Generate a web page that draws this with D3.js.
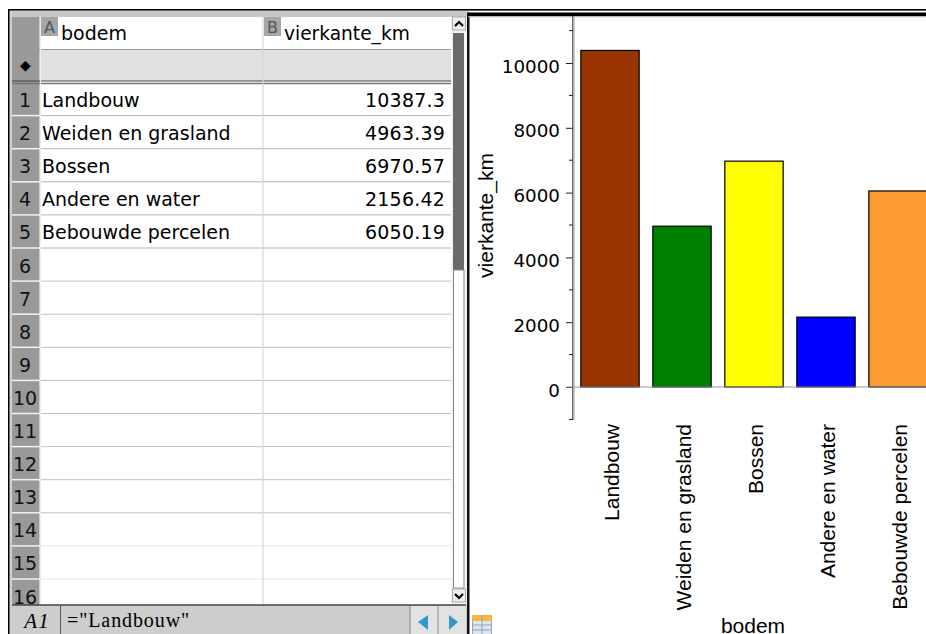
<!DOCTYPE html>
<html>
<head>
<meta charset="utf-8">
<script src="https://cdn.jsdelivr.net/npm/d3@7/dist/d3.min.js"></script>
<style>
html,body{margin:0;padding:0;background:#fff}
svg{display:block}
text{font-family:"DejaVu Sans",sans-serif;fill:#000}
.arial{font-family:"Liberation Sans",sans-serif}
.serif{font-family:"Liberation Serif",serif}
</style>
</head>
<body>
<svg id="doc" width="926" height="634"></svg>
<script>
// Land use table and its bar chart
const categories = ["Landbouw", "Weiden en grasland", "Bossen", "Andere en water", "Bebouwde percelen"];
const areaKm2 = [10387.3, 4963.39, 6970.57, 2156.42, 6050.19];
const areaLabels = ["10387.3", "4963.39", "6970.57", "2156.42", "6050.19"];
const barColors = ["#993300", "#008000", "#ffff00", "#0000ff", "#ff9933"];
const yTicks = [0, 2000, 4000, 6000, 8000, 10000];
const yMinorTicks = [-1000, 1000, 3000, 5000, 7000, 9000, 11000];
const rowNumbers = d3.range(1, 17);
const columnHeaders = [["A", "bodem"], ["B", "vierkante_km"]];

const svg = d3.select("#doc");
const rect = (g, x, y, w, h, fill) => g.append("rect").attr("x", x).attr("y", y).attr("width", w).attr("height", h).attr("fill", fill);
const hline = (g, x1, x2, y, stroke, sw) => g.append("line").attr("x1", x1).attr("x2", x2).attr("y1", y).attr("y2", y).attr("stroke", stroke).attr("stroke-width", sw);
const vline = (g, x, y1, y2, stroke, sw) => g.append("line").attr("x1", x).attr("x2", x).attr("y1", y1).attr("y2", y2).attr("stroke", stroke).attr("stroke-width", sw);

/* ---------- spreadsheet pane ---------- */
const sheet = svg.append("g");
const rowY = d3.scaleLinear().domain([1, 2]).range([83, 116.1]);

rect(sheet, 8, 9, 918, 1.6, "#000");
rect(sheet, 8, 9, 1.6, 625, "#000");
rect(sheet, 10, 11, 458, 6, "#c8c8c8");
rect(sheet, 10, 11, 2, 623, "#d0d0d0");
rect(sheet, 12, 17, 27.5, 588, "#999999");
rect(sheet, 40, 50, 412, 31, "#e0e0e0");

// Row separators and the numbered gutter
rowNumbers.forEach(n => {
  const y = rowY(n + 1);
  if (n < 16) {
    hline(sheet, 40, 451, y - 0.5, n < 6 ? "#b4b4b4" : (n < 14 ? "#c0c0c0" : "#e6e6e6"), 1);
    hline(sheet, 12, 40, y - 0.5, "#f2f2f2", 1.5);
  }
  sheet.append("text").attr("x", 25).attr("y", rowY(n) + 24)
    .attr("text-anchor", "middle").attr("font-size", 19).style("fill", "#111").text(n);
});

hline(sheet, 12, 451, 49.5, "#9a9a9a", 1);
hline(sheet, 12, 451, 81, "#444", 1.2);
hline(sheet, 12, 451, 83.5, "#777", 1.6);
vline(sheet, 263, 17, 605, "#d6d6d6", 1.2);
vline(sheet, 40.5, 17, 605, "#eeeeee", 1);

sheet.append("text").attr("x", 25.5).attr("y", 70).attr("text-anchor", "middle").attr("font-size", 14).text("◆");

// Column headers with their small letter chips
columnHeaders.forEach(([letter, name], i) => {
  const x = i === 0 ? 41 : 264;
  rect(sheet, x, 17, 17, 19, "#a6a6a6");
  sheet.append("text").attr("x", x + 8.5).attr("y", 33).attr("text-anchor", "middle")
    .attr("font-size", 16).style("fill", "#555").text(letter);
  sheet.append("text").attr("x", x + 20).attr("y", 40).attr("font-size", i === 0 ? 19 : 18.6).text(name);
});

// Table cells
categories.forEach((c, i) => {
  sheet.append("text").attr("x", 42).attr("y", rowY(i + 1) + 24).attr("font-size", 19).text(c);
  sheet.append("text").attr("x", 445).attr("y", rowY(i + 1) + 24).attr("text-anchor", "end")
    .attr("font-size", 19).attr("letter-spacing", 0.2).text(areaLabels[i]);
});

// Vertical scrollbar
rect(sheet, 451, 17, 16, 588, "#f4f4f4");
rect(sheet, 453, 33, 11, 237, "#6a6a6a");
sheet.append("rect").attr("x", 453.5).attr("y", 270).attr("width", 10.5).attr("height", 318).attr("fill", "#fff").attr("stroke", "#888");
[[459, 24, -1], [459, 596, 1]].forEach(([x, y, dir]) => {
  sheet.append("rect").attr("x", x - 6.5).attr("y", y - 7).attr("width", 13).attr("height", 13).attr("fill", "#eee").attr("stroke", "#aaa");
  sheet.append("path").attr("d", `M${x - 4},${y - dir * 2}L${x},${y + dir * 2}L${x + 4},${y - dir * 2}`)
    .attr("fill", "none").attr("stroke", "#000").attr("stroke-width", 2.2);
});

// Formula bar
rect(sheet, 12, 605, 456, 29, "#cdcdcd");
hline(sheet, 12, 466, 605, "#444", 1.4);
vline(sheet, 60.5, 605, 634, "#555", 1);
sheet.append("text").attr("class", "serif").attr("x", 37).attr("y", 628).attr("text-anchor", "middle")
  .attr("font-style", "italic").attr("font-size", 21).attr("letter-spacing", 1).text("A1");
sheet.append("text").attr("class", "serif").attr("x", 67).attr("y", 627)
  .attr("font-size", 20).attr("letter-spacing", 0.9)
  .text("=\"" + categories[0] + "\"");
rect(sheet, 410, 606, 56, 28, "#e2e2e2");
vline(sheet, 410, 606, 634, "#888", 1);
vline(sheet, 438, 606, 634, "#888", 1);
sheet.append("path").attr("d", "M418,622L428,615L428,630Z").attr("fill", "#3399cc");
sheet.append("path").attr("d", "M458,622L449,615L449,630Z").attr("fill", "#3399cc");

// Page divider and tab icon
rect(svg, 467, 12.5, 2.5, 621.5, "#111");
rect(svg, 468, 12.5, 458, 3.8, "#000");
hline(svg, 468, 926, 16.8, "#bbb", 1);
rect(svg, 472, 615, 20, 6, "#f9b53f");
rect(svg, 472, 621, 20, 13, "#dde6ee");
[625, 630].forEach(y => hline(svg, 472, 492, y, "#8fa5b8", 1));
vline(svg, 472.5, 621, 634, "#8fa5b8", 1);
vline(svg, 491.5, 621, 634, "#8fa5b8", 1);
vline(svg, 482, 615, 634, "#8fa5b8", 1);

/* ---------- bar chart pane ---------- */
const y = d3.scaleLinear().domain([0, 10000]).range([387, 63]);
const x = d3.scaleBand().domain(categories).range([574, 934]).paddingInner(0.19).paddingOuter(0.095);
const plot = svg.append("g");
svg.append("clipPath").attr("id", "pane").append("rect").attr("x", 470).attr("y", 16).attr("width", 456).attr("height", 618);

const bars = plot.append("g").attr("clip-path", "url(#pane)");
bars.selectAll("rect").data(categories).join("rect")
  .attr("x", d => x(d))
  .attr("y", (d, i) => y(areaKm2[i]))
  .attr("width", x.bandwidth())
  .attr("height", (d, i) => y(0) - y(areaKm2[i]))
  .attr("fill", (d, i) => barColors[i])
  .attr("stroke", "#000").attr("stroke-width", 1.2);

const yAxis = d3.axisLeft(y).tickValues(yTicks).tickFormat(d3.format("d")).tickSize(7).tickPadding(6);
const axisG = plot.append("g").attr("transform", "translate(573,0)").call(yAxis);
axisG.select(".domain").remove();
axisG.selectAll("text").attr("font-size", 18.3).attr("dy", "0.5em").style("fill", "#000");
axisG.selectAll("line").attr("stroke", "#222");
vline(plot, 572.8, 16, 420, "#444", 1.2);
vline(plot, 574.5, 16, 420, "#ccc", 1);
yMinorTicks.forEach(v => hline(plot, 569, 573, y(v), "#222", 1));
hline(plot, 566, 926, y(0), "#999", 1);

plot.append("text").attr("class", "arial").attr("transform", "translate(492.5,215.5) rotate(-90)")
  .attr("text-anchor", "middle").attr("font-size", 21).text("vierkante_km");

categories.forEach(c => {
  plot.append("text").attr("class", "arial")
    .attr("transform", `translate(${x(c) + x.bandwidth() / 2 + 8.5},424) rotate(-90)`)
    .attr("text-anchor", "end").attr("font-size", 21).text(c);
});
plot.append("text").attr("class", "arial").attr("x", 753).attr("y", 633)
  .attr("text-anchor", "middle").attr("font-size", 21).text("bodem");
</script>
</body>
</html>
